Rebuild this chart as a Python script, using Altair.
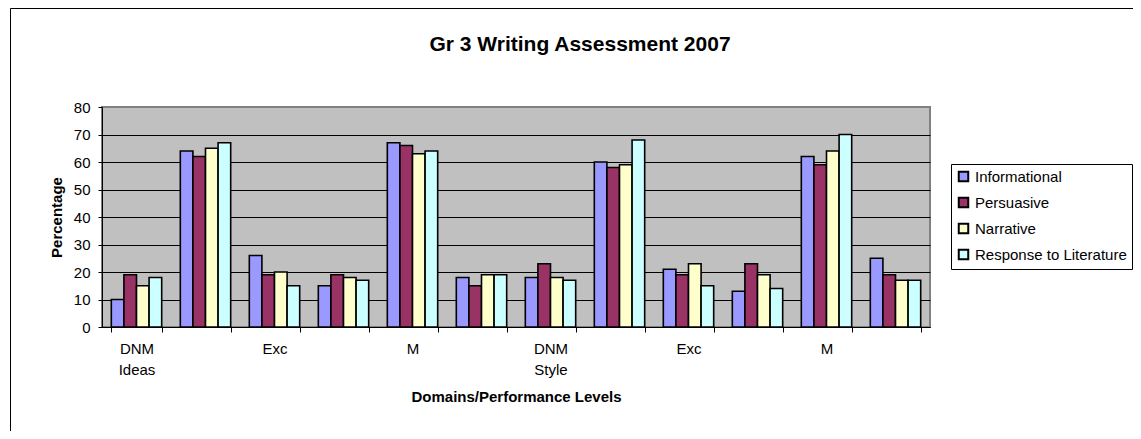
import json
import altair as alt
import pandas as pd

# ---- data -------------------------------------------------------------
categories = [
    "DNM Ideas", "M Ideas", "Exc Ideas",
    "DNM Organization", "M Organization", "Exc Organization",
    "DNM Style", "M Style", "Exc Style",
    "DNM Conventions", "M Conventions", "Exc Conventions",
]
shown_labels = [["DNM", "Ideas"], [""], ["Exc"], [""], ["M"], [""],
                ["DNM", "Style"], [""], ["Exc"], [""], ["M"], [""]]
series = ["Informational", "Persuasive", "Narrative", "Response to Literature"]
colors = ["#9999FF", "#993366", "#FFFFCC", "#CCFFFF"]

informational = [10, 64, 26, 15, 67, 18, 18, 60, 21, 13, 62, 25]
persuasive = [19, 62, 19, 19, 66, 15, 23, 58, 19, 23, 59, 19]
narrative = [15, 65, 20, 18, 63, 19, 18, 59, 23, 19, 64, 17]
response = [18, 67, 15, 17, 64, 19, 17, 68, 15, 14, 70, 17]
y_ticks = [0, 10, 20, 30, 40, 50, 60, 70, 80]

title_text = "Gr 3 Writing Assessment 2007"
x_title = "Domains/Performance Levels"
y_title = "Percentage"

rows = []
for s, vals in zip(series, [informational, persuasive, narrative, response]):
    for c, v in zip(categories, vals):
        rows.append({"cat": c, "series": s, "value": v})
df = pd.DataFrame(rows)

FONT = "Liberation Sans"
label_expr = f"{json.dumps(shown_labels)}[indexof({json.dumps(categories)}, datum.value)]"

bars = alt.Chart(df).mark_bar(stroke="black", strokeWidth=1.6).encode(
    x=alt.X(
        "cat:N", sort=categories,
        scale=alt.Scale(paddingInner=0.27, paddingOuter=0.135),
        axis=alt.Axis(
            title=x_title, titleFont=FONT, titleFontSize=15, titleFontWeight="bold",
            titleColor="black", titlePadding=12,
            labelExpr=label_expr, labelAngle=0, labelFont=FONT, labelFontSize=15,
            labelColor="black", labelPadding=9, labelLineHeight=21,
            labelOverlap=False, tickBand="extent", tickSize=5, tickColor="black",
            domainColor="black", grid=False,
        ),
    ),
    xOffset=alt.XOffset("series:N", sort=series,
                        scale=alt.Scale(paddingInner=0, paddingOuter=0)),
    y=alt.Y(
        "value:Q", scale=alt.Scale(domain=[0, 80], nice=False),
        axis=alt.Axis(
            values=y_ticks, title=y_title, titleFont=FONT, titleFontSize=15,
            titleFontWeight="bold", titleColor="black", titlePadding=9,
            labelFont=FONT, labelFontSize=15, labelColor="black", labelPadding=8,
            tickSize=4, tickColor="black", domainColor="black",
            grid=True,
            gridColor={"condition": {"test": "datum.value == 80", "value": "#808080"},
                       "value": "black"},
            gridWidth=1,
        ),
    ),
    color=alt.Color(
        "series:N", sort=series,
        scale=alt.Scale(domain=series, range=colors),
        legend=alt.Legend(
            title=None, orient="none", legendX=849, legendY=57,
            symbolType="square", symbolSize=90, symbolStrokeColor="black",
            symbolStrokeWidth=2, labelFont=FONT, labelFontSize=15,
            labelColor="black", labelOffset=4, rowPadding=7,
            strokeColor="black", fillColor="white", padding=5, cornerRadius=0,
        ),
    ),
)

one = pd.DataFrame({"k": [0]})
frame = alt.Chart(one).mark_rect(fillOpacity=0, stroke="black", strokeWidth=1).encode(
    x=alt.value(-91.5), x2=alt.value(1100), y=alt.value(-98.5), y2=alt.value(360)
)
title = alt.Chart(one).mark_text(
    text=title_text, font=FONT, fontSize=21, fontWeight="bold", color="black",
    align="center", baseline="middle",
).encode(x=alt.value(478), y=alt.value(-62))

chart = alt.layer(frame, bars, title).properties(
    width=828, height=220,
    autosize=alt.AutoSizeParams(type="none"),
    padding={"left": 94, "top": 99, "right": 203, "bottom": 104},
).configure_view(fill="#C0C0C0", stroke="#808080", strokeWidth=2)

chart.save("out.html", embed_options={"renderer": "svg", "actions": False})
